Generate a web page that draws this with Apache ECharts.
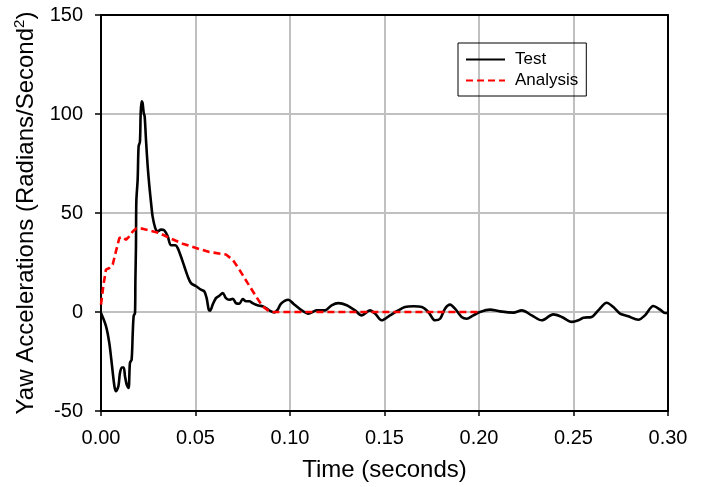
<!DOCTYPE html>
<html>
<head>
<meta charset="utf-8">
<script src="https://cdn.jsdelivr.net/npm/echarts@6/dist/echarts.min.js"></script>
<style>html,body{margin:0;padding:0;background:#fff;}#c{width:704px;height:487px;}</style>
</head>
<body>
<div id="c"></div>
<script>
const xTicks = [0, 0.05, 0.10, 0.15, 0.20, 0.25, 0.30];
const yTicks = [-50, 0, 50, 100, 150];
const seriesNames = ['Test', 'Analysis'];

const testT = [0,0.0026,0.0044,0.0058,0.0071,0.0079,0.0092,0.010,0.011,0.012,0.0127,0.0136,0.0146,0.0153,0.0162,0.0168,0.0173,0.018,0.0182,0.0185,0.0187,0.0194,0.0199,0.0206,0.021,0.0215,0.022,0.0226,0.0231,0.0238,0.0247,0.0256,0.0265,0.0273,0.0287,0.030,0.0317,0.0335,0.0353,0.037,0.0393,0.0406,0.0423,0.0441,0.0459,0.0476,0.0503,0.0529,0.0547,0.0559,0.057,0.0577,0.0591,0.0608,0.0626,0.0644,0.0661,0.0679,0.0697,0.0714,0.0732,0.075,0.0767,0.0785,0.0802,0.082,0.0838,0.0855,0.0873,0.09,0.0917,0.0935,0.0952,0.0991,0.1018,0.1062,0.1097,0.1141,0.1185,0.122,0.1256,0.13,0.1344,0.1379,0.1423,0.145,0.1485,0.1529,0.1573,0.1608,0.1653,0.1697,0.1732,0.1767,0.1794,0.182,0.1847,0.1873,0.1908,0.1935,0.197,0.2005,0.2058,0.2111,0.2182,0.2226,0.2279,0.2332,0.2393,0.2438,0.2491,0.2526,0.2552,0.2596,0.2631,0.2676,0.2711,0.2746,0.279,0.2843,0.2878,0.2922,0.2958,0.2984,0.3];
const testV = [-0.5,-7,-15.7,-27,-37.5,-40,-37.5,-31,-28,-28,-32.5,-36.7,-38.4,-25.8,-24,-10.6,-2,-0.5,16.3,33,56,67,83.7,86,100.5,106.4,105.6,100.5,98.8,87,73.6,63.5,55,48.3,42.4,40.7,41.6,41.2,38.2,33.7,33.7,32.3,28,23,18,14.6,13,11.3,10.4,7,1.2,0.7,3.7,7,8.2,9.6,7,6.2,6.7,4.5,4.2,6.6,5.4,5.4,4.5,3.7,3.2,2.9,2,0.3,-0.2,1.2,4.2,6.2,4.2,0.8,-0.8,0.8,0.8,3.4,4.5,3.4,0.8,-1.7,0.8,-0.8,-4.2,-1.7,0.8,2.5,2.9,2.5,0,-4.2,-3.4,1.7,3.7,1.7,-2.5,-3.4,-1.7,0,1.2,0.3,-0.3,0.8,-1.7,-4.2,-1.2,-2.5,-5,-4.2,-2.9,-2.5,0.8,4.7,2.5,-0.8,-2.2,-3.9,-1.7,3,1.2,-0.5,-0.5];

const anaT = [0,0.0012,0.0026,0.0044,0.0062,0.0079,0.0097,0.0115,0.0132,0.015,0.0168,0.0185,0.022,0.0256,0.0309,0.0362,0.0432,0.0503,0.0573,0.0661,0.0697,0.0732,0.0776,0.082,0.0855,0.0891,0.0908,0.2];
const anaV = [3.7,13,21.4,22.2,24,30.6,37.4,37.9,36.5,38.2,40.7,42.1,42.1,41.2,39.9,37.4,34.5,32.3,30.3,29,26.4,21.4,14.6,7.9,2.9,0.3,0,0];

const testData = testT.map((t, i) => [t, testV[i]]);
const anaData = anaT.map((t, i) => [t, anaV[i]]);

const FONT = 'Liberation Sans, Arial, sans-serif';
const chart = echarts.init(document.getElementById('c'), null, {renderer: 'canvas'});
chart.setOption({
  animation: false,
  backgroundColor: '#fff',
  textStyle: {fontFamily: FONT, color: '#000'},
  grid: {left: 101, right: 36, top: 15, bottom: 76, containLabel: false},
  legend: {
    orient: 'vertical', left: 458, top: 43,
    padding: [8, 8, 7, 7],
    borderColor: '#000', borderWidth: 1, borderRadius: 0,
    itemWidth: 39, itemHeight: 17, itemGap: 4,
    itemStyle: {opacity: 0},
    textStyle: {fontFamily: FONT, fontSize: 17, color: '#000', padding: [0, 0, 0, 5]},
    data: seriesNames
  },
  xAxis: [{
    type: 'value', min: xTicks[0], max: xTicks[xTicks.length - 1], interval: 0.05,
    name: 'Time (seconds)', nameLocation: 'middle', nameGap: 47,
    nameTextStyle: {fontFamily: FONT, fontSize: 24, color: '#000'},
    axisLine: {show: true, onZero: false, lineStyle: {color: '#000', width: 2}},
    axisTick: {show: true, inside: false, length: 5, lineStyle: {color: '#000', width: 1.5}},
    axisLabel: {fontFamily: FONT, fontSize: 20, color: '#000', margin: 17, formatter: v => v.toFixed(2)},
    splitLine: {show: true, lineStyle: {color: '#c0c0c0', width: 2}}
  }, {
    type: 'value', position: 'top', min: 0, max: 0.3,
    axisLine: {show: true, onZero: false, lineStyle: {color: '#000', width: 2}},
    axisTick: {show: false}, axisLabel: {show: false}, splitLine: {show: false}
  }],
  yAxis: [{
    type: 'value', min: yTicks[0], max: yTicks[yTicks.length - 1], interval: 50,
    name: '{a|Yaw Accelerations (Radians/Second}{s|2}{a|)}',
    nameLocation: 'middle', nameGap: 56,
    nameTextStyle: {fontFamily: FONT, fontSize: 24, color: '#000',
      rich: {a: {fontFamily: FONT, fontSize: 24, color: '#000'},
             s: {fontFamily: FONT, fontSize: 15, color: '#000', padding: [0, 0, 14, 0]}}},
    axisLine: {show: true, onZero: false, lineStyle: {color: '#000', width: 2}},
    axisTick: {show: true, inside: false, length: 6, lineStyle: {color: '#000', width: 1.5}},
    axisLabel: {fontFamily: FONT, fontSize: 20, color: '#000', margin: 18},
    splitLine: {show: true, lineStyle: {color: '#c0c0c0', width: 2}}
  }, {
    type: 'value', position: 'right', min: -50, max: 150,
    axisLine: {show: true, onZero: false, lineStyle: {color: '#000', width: 2}},
    axisTick: {show: false}, axisLabel: {show: false}, splitLine: {show: false}
  }],
  series: [{
    name: 'Test', type: 'line', data: testData, showSymbol: false, symbol: 'none',
    smooth: 0.3, lineStyle: {color: '#000', width: 2.6}, itemStyle: {color: '#000'}, z: 3
  }, {
    name: 'Analysis', type: 'line', data: anaData, showSymbol: false, symbol: 'none',
    lineStyle: {color: '#ff0000', width: 2.6, type: [7, 4]}, itemStyle: {color: '#ff0000'}, z: 4
  }]
});
</script>
</body>
</html>
